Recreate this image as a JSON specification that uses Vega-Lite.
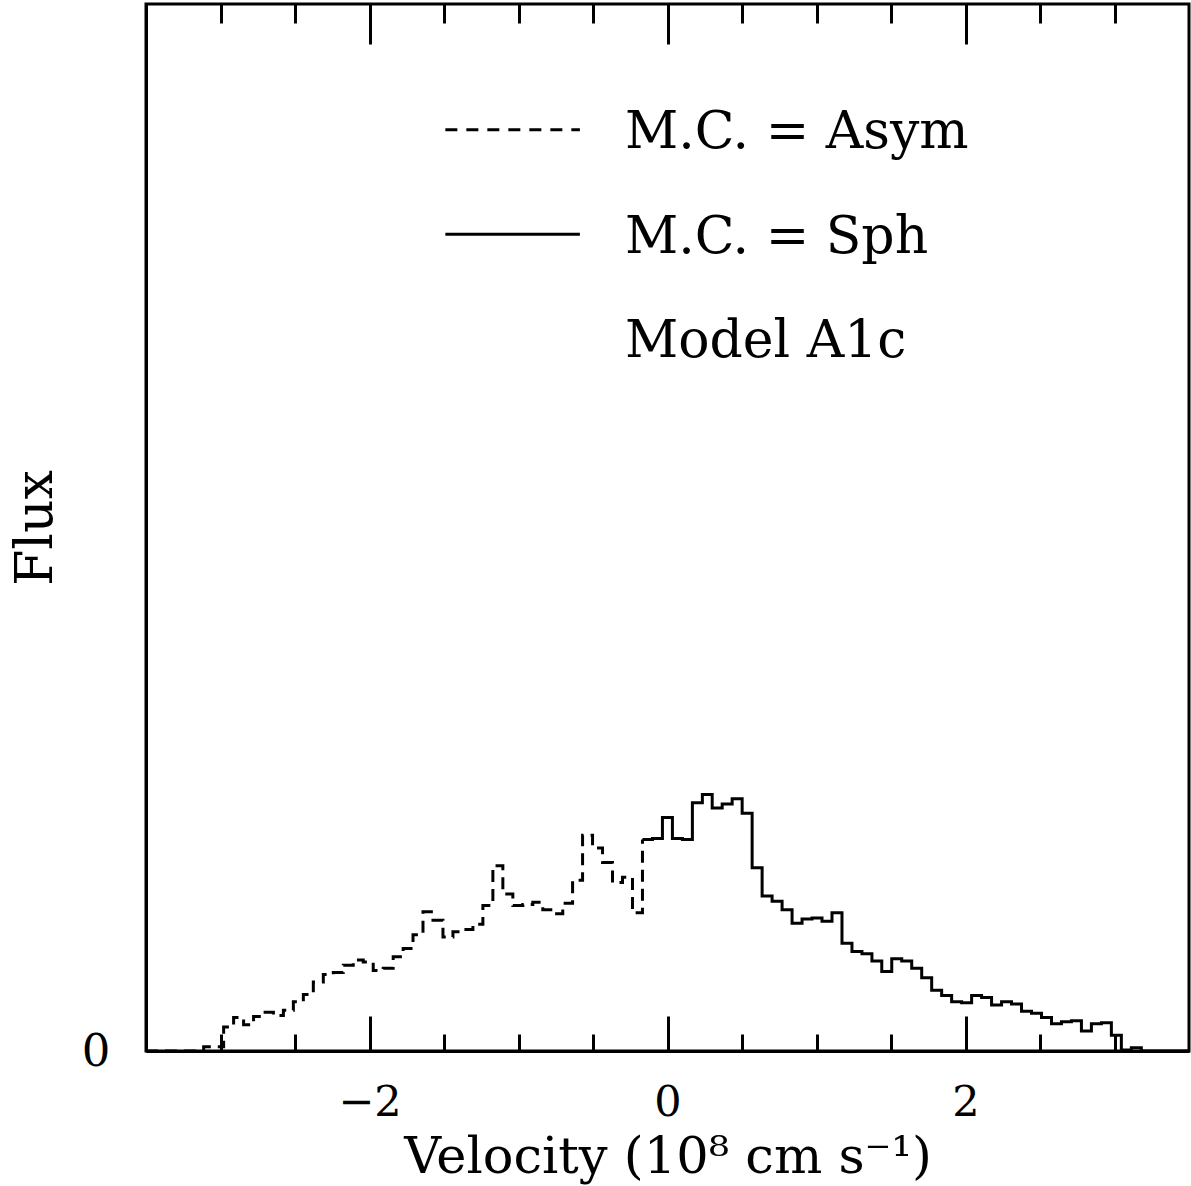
{
  "$schema": "https://vega.github.io/schema/vega-lite/v6.json",
  "width": 1043,
  "height": 1047,
  "autosize": {"type": "none"},
  "padding": {"left": 146, "top": 4, "right": 2, "bottom": 135},
  "background": "white",
  "config": {
    "view": {"stroke": "black", "strokeWidth": 3},
    "font": "DejaVu Serif",
    "axis": {
      "grid": false,
      "domainColor": "black",
      "tickColor": "black",
      "labelColor": "black",
      "titleColor": "black",
      "labelFont": "DejaVu Serif",
      "titleFont": "DejaVu Serif",
      "labelFontWeight": "normal",
      "titleFontWeight": "normal",
      "domainWidth": 3,
      "tickWidth": 3
    }
  },
  "datasets": {
    "asym": [
      {"v": -3.5, "f": 0}, {"v": -3.113, "f": 0.004}, {"v": -3.046, "f": 0.004}, {"v": -2.979, "f": 0.023},
      {"v": -2.912, "f": 0.032}, {"v": -2.845, "f": 0.025}, {"v": -2.778, "f": 0.033}, {"v": -2.712, "f": 0.037},
      {"v": -2.645, "f": 0.034}, {"v": -2.578, "f": 0.039}, {"v": -2.511, "f": 0.047}, {"v": -2.444, "f": 0.054},
      {"v": -2.377, "f": 0.066}, {"v": -2.310, "f": 0.073}, {"v": -2.243, "f": 0.075}, {"v": -2.176, "f": 0.082},
      {"v": -2.109, "f": 0.087}, {"v": -2.042, "f": 0.085}, {"v": -1.975, "f": 0.077}, {"v": -1.908, "f": 0.079},
      {"v": -1.841, "f": 0.090}, {"v": -1.774, "f": 0.098}, {"v": -1.708, "f": 0.111}, {"v": -1.641, "f": 0.133},
      {"v": -1.574, "f": 0.125}, {"v": -1.507, "f": 0.109}, {"v": -1.440, "f": 0.114}, {"v": -1.373, "f": 0.116},
      {"v": -1.306, "f": 0.121}, {"v": -1.239, "f": 0.139}, {"v": -1.172, "f": 0.177}, {"v": -1.105, "f": 0.150},
      {"v": -1.038, "f": 0.139}, {"v": -0.971, "f": 0.140}, {"v": -0.904, "f": 0.142}, {"v": -0.837, "f": 0.135},
      {"v": -0.770, "f": 0.131}, {"v": -0.703, "f": 0.141}, {"v": -0.637, "f": 0.163}, {"v": -0.570, "f": 0.206},
      {"v": -0.503, "f": 0.194}, {"v": -0.436, "f": 0.180}, {"v": -0.369, "f": 0.161}, {"v": -0.302, "f": 0.166},
      {"v": -0.235, "f": 0.132}, {"v": -0.168, "f": 0.202}
    ],
    "sph": [
      {"v": -0.168, "f": 0.202}, {"v": -0.101, "f": 0.203}, {"v": -0.034, "f": 0.223}, {"v": 0.033, "f": 0.203},
      {"v": 0.100, "f": 0.202}, {"v": 0.167, "f": 0.237}, {"v": 0.234, "f": 0.245}, {"v": 0.300, "f": 0.232},
      {"v": 0.367, "f": 0.236}, {"v": 0.434, "f": 0.241}, {"v": 0.501, "f": 0.227}, {"v": 0.568, "f": 0.175},
      {"v": 0.635, "f": 0.148}, {"v": 0.702, "f": 0.143}, {"v": 0.769, "f": 0.135}, {"v": 0.836, "f": 0.122},
      {"v": 0.903, "f": 0.126}, {"v": 0.970, "f": 0.127}, {"v": 1.037, "f": 0.124}, {"v": 1.104, "f": 0.132},
      {"v": 1.171, "f": 0.103}, {"v": 1.238, "f": 0.095}, {"v": 1.305, "f": 0.093}, {"v": 1.372, "f": 0.086},
      {"v": 1.438, "f": 0.076}, {"v": 1.505, "f": 0.088}, {"v": 1.572, "f": 0.086}, {"v": 1.639, "f": 0.079},
      {"v": 1.706, "f": 0.070}, {"v": 1.773, "f": 0.058}, {"v": 1.840, "f": 0.053}, {"v": 1.907, "f": 0.047},
      {"v": 1.974, "f": 0.046}, {"v": 2.041, "f": 0.053}, {"v": 2.108, "f": 0.051}, {"v": 2.175, "f": 0.044},
      {"v": 2.242, "f": 0.047}, {"v": 2.309, "f": 0.045}, {"v": 2.376, "f": 0.038}, {"v": 2.443, "f": 0.036},
      {"v": 2.510, "f": 0.032}, {"v": 2.577, "f": 0.026}, {"v": 2.644, "f": 0.028}, {"v": 2.711, "f": 0.029},
      {"v": 2.778, "f": 0.019}, {"v": 2.845, "f": 0.026}, {"v": 2.912, "f": 0.027}, {"v": 2.979, "f": 0.015},
      {"v": 3.046, "f": 0.001}, {"v": 3.113, "f": 0.003}, {"v": 3.180, "f": 0}, {"v": 3.5, "f": 0}
    ],
    "legdash": [{"v": -1.491, "f": 0.880}, {"v": -0.588, "f": 0.880}],
    "legsolid": [{"v": -1.491, "f": 0.780}, {"v": -0.588, "f": 0.780}],
    "labels": [
      {"v": -0.286, "f": 0.8625, "t": "M.C. = Asym"},
      {"v": -0.286, "f": 0.7622, "t": "M.C. = Sph"},
      {"v": -0.286, "f": 0.6628, "t": "Model A1c"}
    ]
  },
  "resolve": {"axis": {"x": "independent", "y": "independent"}},
  "layer": [
    {
      "data": {"name": "asym"},
      "mark": {"type": "line", "interpolate": "step-after", "color": "black", "strokeWidth": 3, "strokeDash": [12, 7]},
      "encoding": {
        "x": {"field": "v", "type": "quantitative",
          "scale": {"domain": [-3.5, 3.5], "nice": false, "zero": false},
          "axis": {"orient": "bottom", "values": [-2, 0, 2], "ticks": false, "tickSize": 0, "domain": true,
            "labelFontSize": 43, "labelPadding": 30, "labelFlush": false,
            "title": "Velocity (10⁸ cm s⁻¹)", "titleFontSize": 51, "titleY": 121, "titleBaseline": "alphabetic"}},
        "y": {"field": "f", "type": "quantitative",
          "scale": {"domain": [0, 1], "nice": false, "zero": true},
          "axis": {"orient": "left", "values": [0], "ticks": false, "tickSize": 0, "domain": true,
            "labelFontSize": 45, "labelPadding": 36, "labelFlush": false,
            "title": "Flux", "titleFontSize": 52, "titleX": -111, "titleBaseline": "middle"}}
      }
    },
    {
      "data": {"name": "sph"},
      "mark": {"type": "line", "interpolate": "step-after", "color": "black", "strokeWidth": 3},
      "encoding": {
        "x": {"field": "v", "type": "quantitative",
          "scale": {"domain": [-3.5, 3.5], "nice": false, "zero": false},
          "axis": {"orient": "bottom", "values": [-2, 0, 2], "tickSize": -35, "labels": false, "domain": false, "title": null}},
        "y": {"field": "f", "type": "quantitative", "scale": {"domain": [0, 1], "nice": false, "zero": true}, "axis": null}
      }
    },
    {
      "data": {"name": "legdash"},
      "mark": {"type": "line", "color": "black", "strokeWidth": 3, "strokeDash": [12, 9]},
      "encoding": {
        "x": {"field": "v", "type": "quantitative",
          "scale": {"domain": [-3.5, 3.5], "nice": false, "zero": false},
          "axis": {"orient": "bottom", "values": [-3, -2.5, -1.5, -1, -0.5, 0.5, 1, 1.5, 2.5, 3], "tickSize": -17, "labels": false, "domain": false, "title": null}},
        "y": {"field": "f", "type": "quantitative", "scale": {"domain": [0, 1], "nice": false, "zero": true}, "axis": null}
      }
    },
    {
      "data": {"name": "legsolid"},
      "mark": {"type": "line", "color": "black", "strokeWidth": 3},
      "encoding": {
        "x": {"field": "v", "type": "quantitative",
          "scale": {"domain": [-3.5, 3.5], "nice": false, "zero": false},
          "axis": {"orient": "top", "values": [-2, 0, 2], "tickSize": -40, "labels": false, "domain": false, "title": null}},
        "y": {"field": "f", "type": "quantitative", "scale": {"domain": [0, 1], "nice": false, "zero": true}, "axis": null}
      }
    },
    {
      "data": {"name": "labels"},
      "mark": {"type": "text", "align": "left", "baseline": "alphabetic", "fontSize": 52, "font": "DejaVu Serif", "color": "black"},
      "encoding": {
        "x": {"field": "v", "type": "quantitative",
          "scale": {"domain": [-3.5, 3.5], "nice": false, "zero": false},
          "axis": {"orient": "top", "values": [-3, -2.5, -1.5, -1, -0.5, 0.5, 1, 1.5, 2.5, 3], "tickSize": -19, "labels": false, "domain": false, "title": null}},
        "y": {"field": "f", "type": "quantitative", "scale": {"domain": [0, 1], "nice": false, "zero": true}, "axis": null},
        "text": {"field": "t"}
      }
    }
  ]
}
